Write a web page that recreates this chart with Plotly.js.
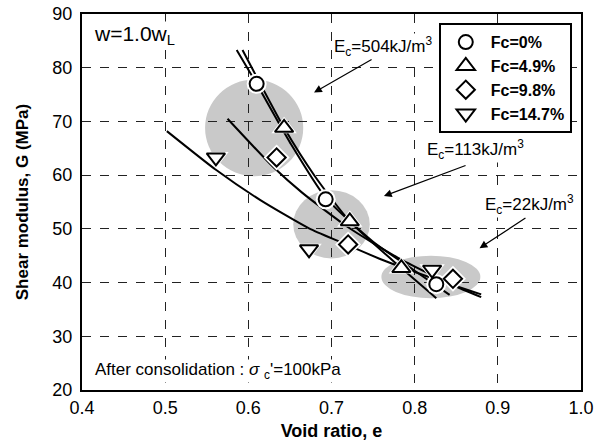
<!DOCTYPE html>
<html>
<head>
<meta charset="utf-8">
<script src="https://cdn.plot.ly/plotly-3.0.1.min.js"></script>
<style>html,body{margin:0;padding:0;background:#fff;}#chart{width:602px;height:446px;}</style>
</head>
<body>
<div id="chart"></div>
<script>
// ---- data ----
const seriesNames = ['Fc=0%', 'Fc=4.9%', 'Fc=9.8%', 'Fc=14.7%'];
const seriesSymbols = ['circle', 'triangle-up', 'diamond', 'triangle-down'];

const voidFc0 = [0.610, 0.693, 0.826];
const shearFc0 = [77.0, 55.5, 39.7];
const voidFc49 = [0.643, 0.722, 0.784];
const shearFc49 = [68.8, 51.4, 42.7];
const voidFc98 = [0.634, 0.720, 0.846];
const shearFc98 = [63.3, 47.1, 40.7];
const voidFc147 = [0.561, 0.673, 0.821];
const shearFc147 = [63.3, 46.2, 42.4];

// trend curves
const trendVoidFc0 = [0.586, 0.610, 0.650, 0.693, 0.750, 0.800, 0.842];
const trendShearFc0 = [83.3, 77.0, 66.1, 55.8, 47.6, 42.2, 37.7];
const trendVoidFc49 = [0.593, 0.643, 0.680, 0.722, 0.784, 0.826];
const trendShearFc49 = [83.3, 68.8, 59.8, 51.4, 42.7, 37.1];
const trendVoidFc98 = [0.575, 0.630, 0.665, 0.720, 0.780, 0.846, 0.880];
const trendShearFc98 = [70.5, 61.5, 56.7, 50.3, 44.6, 39.5, 37.3];
const trendVoidFc147 = [0.502, 0.561, 0.614, 0.673, 0.710, 0.760, 0.818, 0.880];
const trendShearFc147 = [68.2, 61.0, 55.4, 50.1, 47.6, 44.3, 41.0, 37.8];

// shaded energy zones: [e0, e1, G0, G1]
const zoneLabels = ['E<sub>c</sub>=504kJ/m<sup>3</sup>', 'E<sub>c</sub>=113kJ/m<sup>3</sup>', 'E<sub>c</sub>=22kJ/m<sup>3</sup>'];
const zone504 = [0.548, 0.666, 59.8, 77.8];
const zone113 = [0.654, 0.746, 44.5, 57.2];
const zone22 = [0.760, 0.879, 37.1, 45.0];
// label centre [e, G], arrow tail [e, G], arrow head [e, G]
const label504 = [0.762, 84.0]; const tail504 = [0.750, 81.7]; const head504 = [0.679, 75.4];
const label113 = [0.873, 64.8]; const tail113 = [0.863, 61.9]; const head113 = [0.763, 56.1];
const label22 = [0.938, 54.5]; const tail22 = [0.935, 52.2]; const head22 = [0.878, 46.4];

const xTicks = [0.4, 0.5, 0.6, 0.7, 0.8, 0.9, 1.0];
const yTicks = [20, 30, 40, 50, 60, 70, 80, 90];

// ---- build ----
const FONT = 'Liberation Sans, Arial, sans-serif';
const voids = [voidFc0, voidFc49, voidFc98, voidFc147];
const shears = [shearFc0, shearFc49, shearFc98, shearFc147];
const tVoids = [trendVoidFc0, trendVoidFc49, trendVoidFc98, trendVoidFc147];
const tShears = [trendShearFc0, trendShearFc49, trendShearFc98, trendShearFc147];
const sizes = [14, 16, 14, 16];

const traces = [];
for (let i = 0; i < 4; i++) {
  traces.push({x: tVoids[i], y: tShears[i], mode: 'lines', type: 'scatter',
    line: {color: '#000', width: 2, shape: 'spline', smoothing: 0.6},
    showlegend: false, hoverinfo: 'skip'});
}
for (let i = 0; i < 4; i++) {
  traces.push({x: voids[i], y: shears[i], mode: 'markers', type: 'scatter',
    marker: {symbol: seriesSymbols[i], size: sizes[i] + 6, color: '#fff', line: {width: 0}},
    showlegend: false, hoverinfo: 'skip'});
}
for (let i = 0; i < 4; i++) {
  traces.push({x: voids[i], y: shears[i], mode: 'markers', type: 'scatter', name: seriesNames[i],
    marker: {symbol: seriesSymbols[i], size: sizes[i], color: '#fff', line: {color: '#000', width: 2}}});
}

const zones = [zone504, zone113, zone22];
const shapes = zones.map(z => ({type: 'circle', xref: 'x', yref: 'y', x0: z[0], x1: z[1], y0: z[2], y1: z[3],
  fillcolor: '#c9c9c9', line: {width: 0}, layer: 'below'}));

const labels = [label504, label113, label22];
const tails = [tail504, tail113, tail22];
const heads = [head504, head113, head22];
const annotations = [];
for (let i = 0; i < 3; i++) {
  annotations.push({xref: 'x', yref: 'y', x: labels[i][0], y: labels[i][1], text: zoneLabels[i],
    showarrow: false, font: {family: FONT, size: 17, color: '#000'}, bgcolor: '#fff', borderpad: 0});
  annotations.push({xref: 'x', yref: 'y', axref: 'x', ayref: 'y', x: heads[i][0], y: heads[i][1],
    ax: tails[i][0], ay: tails[i][1], text: '', showarrow: true, arrowhead: 2, arrowsize: 1.3,
    arrowwidth: 1.2, arrowcolor: '#000'});
}
annotations.push({xref: 'x', yref: 'y', x: 0.413, y: 86.0, xanchor: 'left', text: 'w=1.0w<sub>L</sub>',
  showarrow: false, font: {family: FONT, size: 21, color: '#000'}, bgcolor: '#fff', borderpad: 0});
annotations.push({xref: 'x', yref: 'y', x: 0.414, y: 23.6, xanchor: 'left',
  text: "After consolidation : <i>σ</i> <sub>c</sub>'=100kPa",
  showarrow: false, font: {family: FONT, size: 17, color: '#000'}, bgcolor: '#fff', borderpad: 0});

const axisCommon = {showline: true, mirror: true, linecolor: '#000', linewidth: 2,
  showgrid: true, gridcolor: '#222', gridwidth: 1, griddash: 'dash', zeroline: false,
  ticks: '', tickfont: {family: FONT, size: 18, color: '#000'}};

const layout = {
  width: 602, height: 446,
  margin: {l: 82, r: 21, t: 14, b: 56, pad: 0},
  paper_bgcolor: '#fff', plot_bgcolor: 'rgba(0,0,0,0)',
  font: {family: FONT, color: '#000'},
  xaxis: Object.assign({}, axisCommon, {range: [0.4, 1.0], tickvals: xTicks, tickformat: '.1f',
    title: {text: '<b>Void ratio, e</b>', font: {family: FONT, size: 18, color: '#000'}, standoff: 8}}),
  yaxis: Object.assign({}, axisCommon, {range: [20, 90], tickvals: yTicks, ticklabelstandoff: 4,
    title: {text: '<b>Shear modulus, G (MPa)</b>', font: {family: FONT, size: 17, color: '#000'}, standoff: 19}}),
  legend: {x: 0.715, y: 0.9755, xanchor: 'left', yanchor: 'top', bgcolor: '#fff', itemwidth: 40,
    bordercolor: '#000', borderwidth: 2, font: {family: FONT, size: 16, color: '#000', weight: 'bold'},
    tracegroupgap: 0},
  shapes: shapes,
  annotations: annotations,
  showlegend: true
};

Plotly.newPlot('chart', traces, layout, {displayModeBar: false, staticPlot: true});
</script>
</body>
</html>
